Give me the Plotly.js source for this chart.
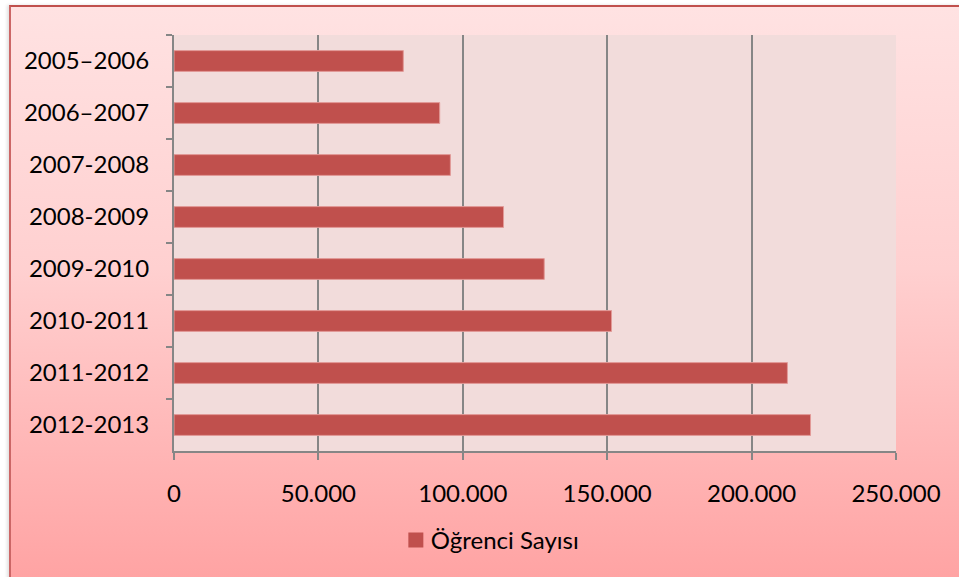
<!DOCTYPE html>
<html>
<head>
<meta charset="utf-8">
<script src="https://cdn.plot.ly/plotly-3.0.1.min.js"></script>
<style>
  html, body { margin: 0; padding: 0; background: #ffffff; overflow: hidden; }
  #wrap { position: relative; width: 959px; height: 577px; }
  #bg {
    position: absolute; left: 9px; top: 5px; width: 960px; height: 580px;
    border-top: 2px solid #C0504D; border-left: 2px solid #CC6666;
    background: linear-gradient(to bottom, #FFE2E2 0%, #FFD0D0 45%, #FFA2A2 100%);
    box-shadow: -2px 0 3px rgba(0,0,0,0.12);
  }
  #chart { position: absolute; left: 0; top: 0; width: 959px; height: 577px; }
</style>
</head>
<body>
<div id="wrap">
  <div id="bg"></div>
  <div id="chart"></div>
</div>
<script>
const categories = ["2005–2006", "2006–2007", "2007-2008", "2008-2009", "2009-2010", "2010-2011", "2011-2012", "2012-2013"];
const ogrenciSayisi = [79400, 92000, 95700, 114100, 128200, 151500, 212400, 220400];
const seriesName = "Öğrenci Sayısı";
const xTickVals = [0, 50000, 100000, 150000, 200000, 250000];

const FONT = "Lato, 'Open Sans', sans-serif";
const FS = 24;

const data = [{
  type: "bar",
  orientation: "h",
  name: seriesName,
  y: categories,
  x: ogrenciSayisi,
  width: 0.4,
  marker: { color: "#C0504D", line: { color: "#E29A98", width: 1 } },
  hoverinfo: "x+y"
}];

const layout = {
  width: 959,
  height: 577,
  paper_bgcolor: "rgba(0,0,0,0)",
  plot_bgcolor: "#F2DCDB",
  separators: ",.",
  margin: { l: 174, r: 63, t: 35, b: 126, pad: 0 },
  font: { family: FONT, size: FS, color: "#000000" },
  bargap: 0.6,
  showlegend: true,
  legend: {
    orientation: "h",
    x: 0.434, xanchor: "center",
    y: -0.215, yanchor: "middle",
    bgcolor: "rgba(0,0,0,0)",
    font: { family: FONT, size: FS, color: "#000000" },
    itemwidth: 30
  },
  xaxis: {
    range: [0, 250000],
    tickvals: xTickVals,
    tickformat: ",d",
    showgrid: true,
    gridcolor: "#868686",
    gridwidth: 1.5,
    zeroline: false,
    showline: true,
    linecolor: "#868686",
    linewidth: 2,
    ticks: "outside",
    ticklen: 7,
    tickwidth: 2,
    tickcolor: "#868686",
    ticklabelstandoff: 13,
    tickfont: { family: FONT, size: FS, color: "#000000" },
    fixedrange: true
  },
  yaxis: {
    type: "category",
    autorange: "reversed",
    tickson: "boundaries",
    showgrid: false,
    showline: true,
    linecolor: "#868686",
    linewidth: 2,
    ticks: "outside",
    ticklen: 6,
    tickwidth: 2,
    tickcolor: "#868686",
    ticklabelstandoff: 18,
    tickfont: { family: FONT, size: FS, color: "#000000" },
    fixedrange: true
  }
};

function fixLegendSymbol(gd) {
  gd.querySelectorAll(".legend .legendpoints path").forEach(function (p) {
    p.setAttribute("d", "M12.5,7.5H-2.5V-7.5H12.5Z");
    p.style.stroke = "none";
    p.style.strokeWidth = "0";
  });
}

Plotly.newPlot("chart", data, layout, { displayModeBar: false }).then(function (gd) {
  fixLegendSymbol(gd);
  gd.on("plotly_afterplot", function () { fixLegendSymbol(gd); });
});
</script>
</body>
</html>
